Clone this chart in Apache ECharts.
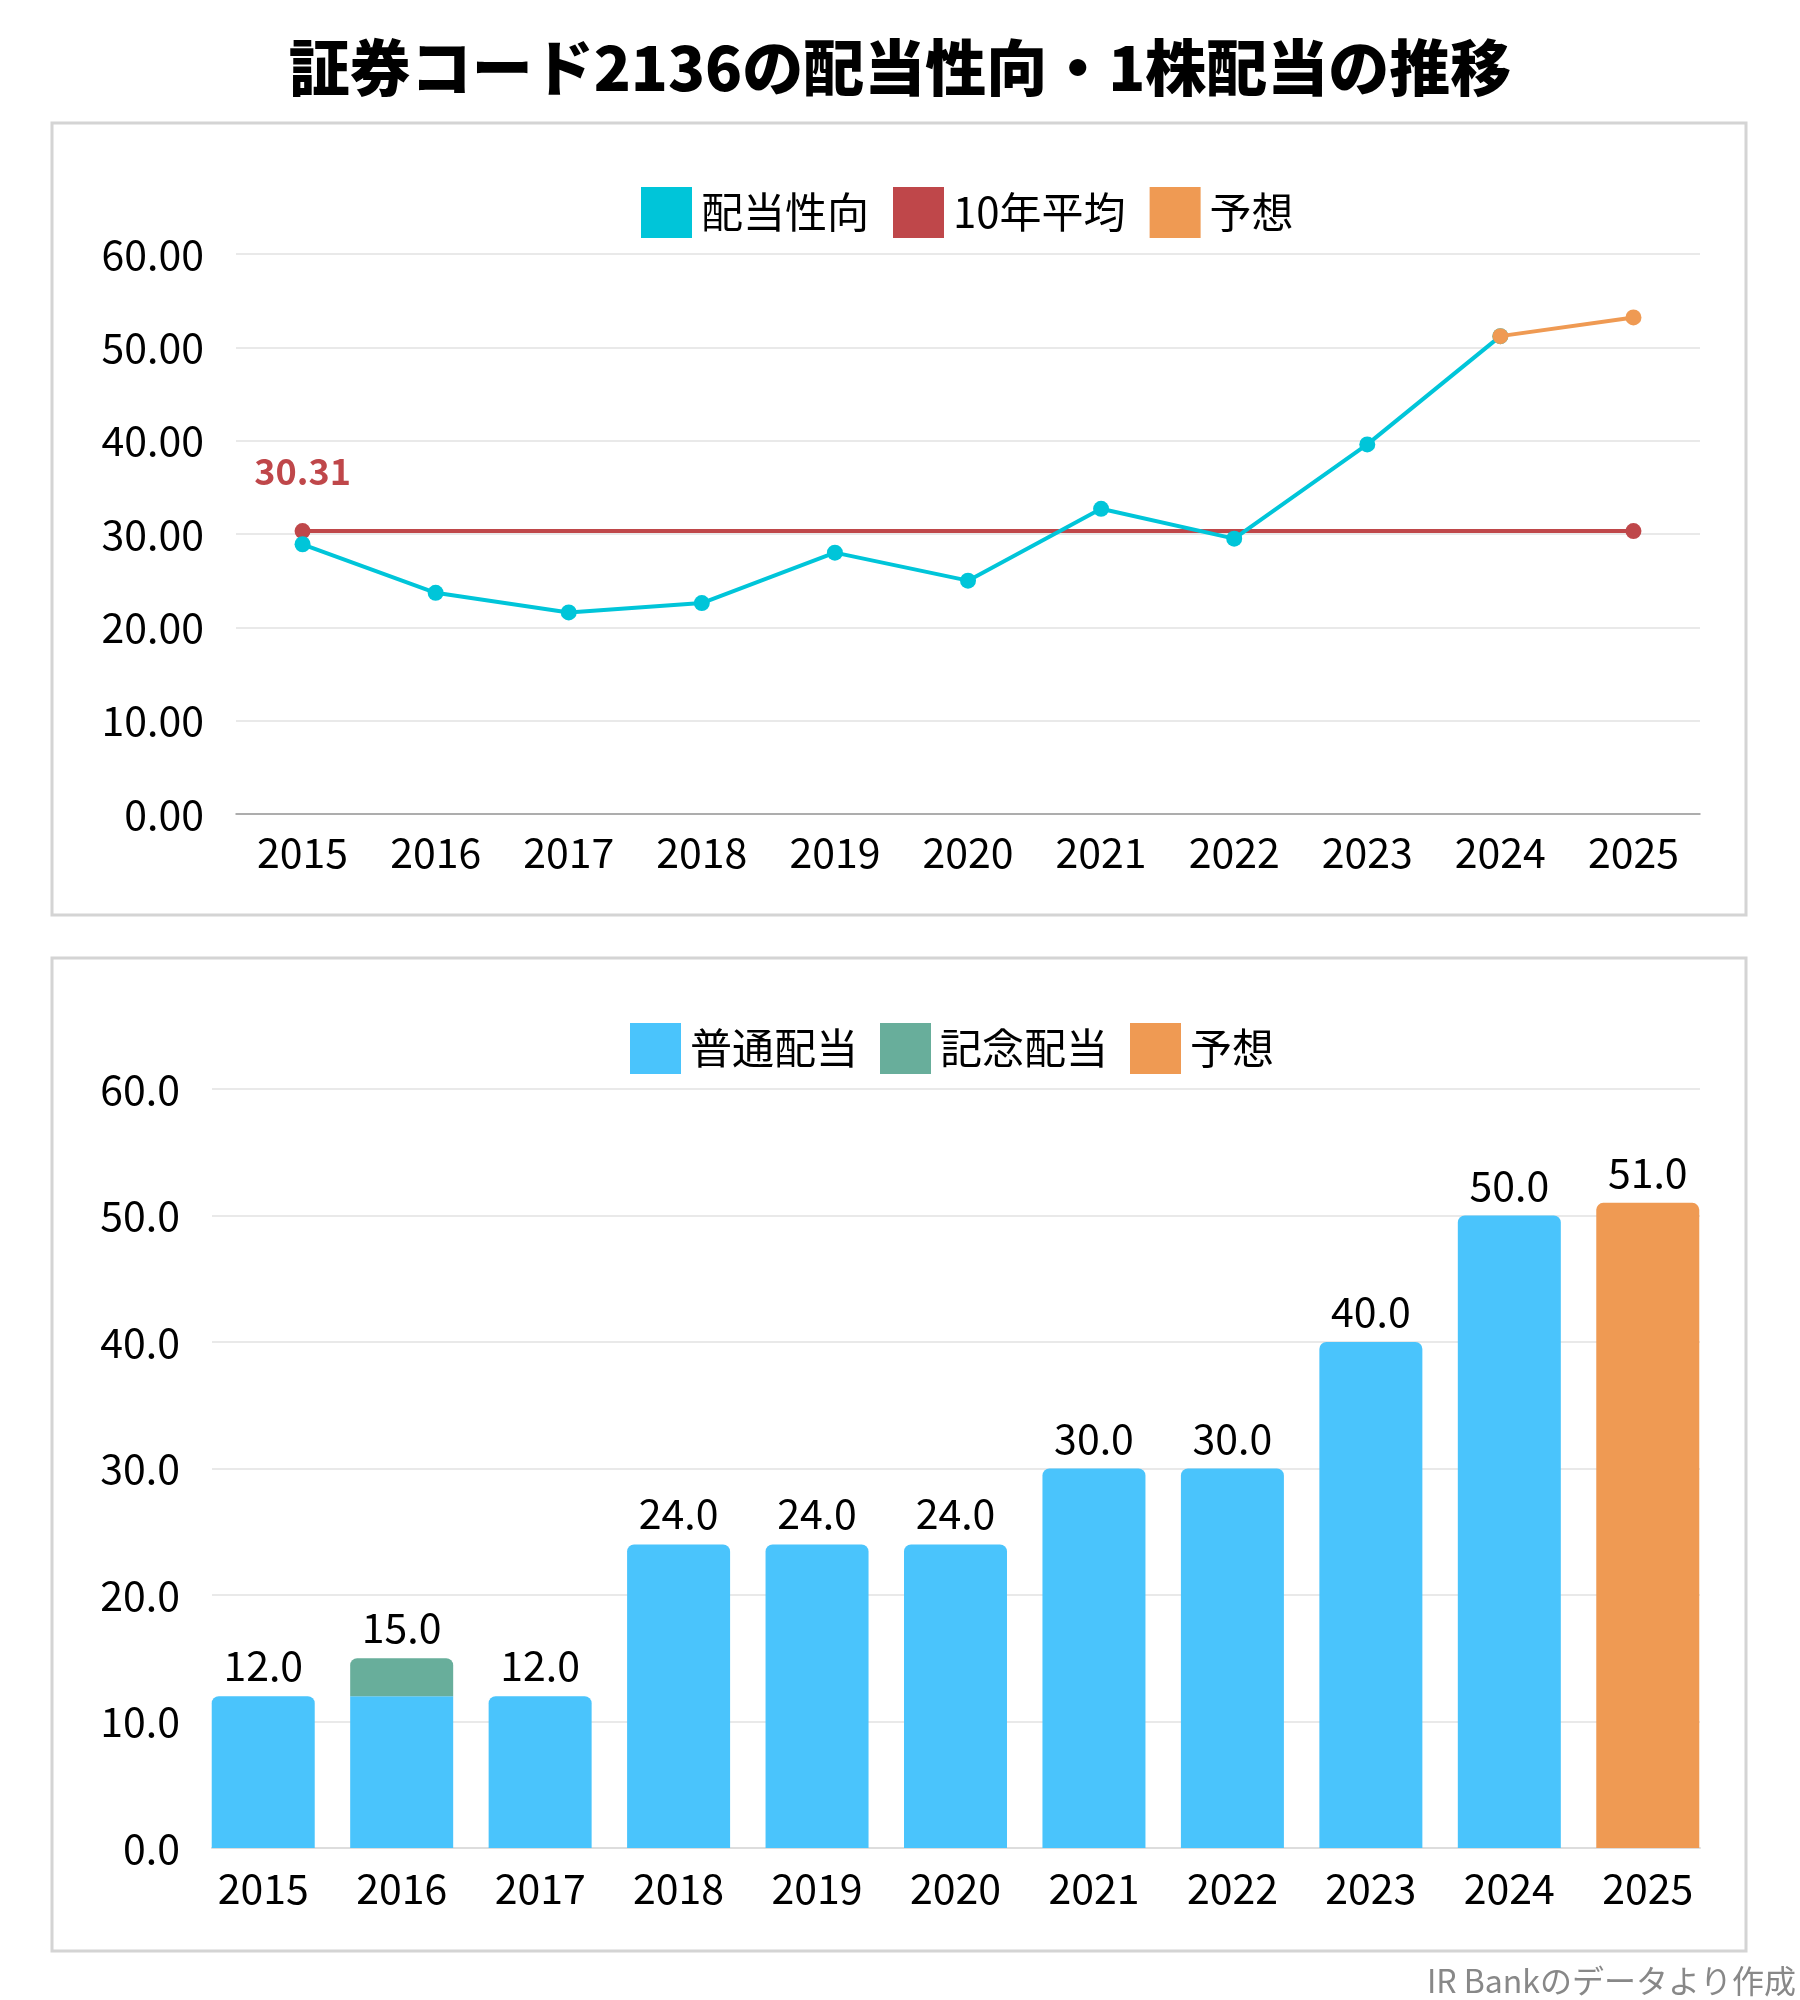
<!DOCTYPE html>
<html>
<head>
<meta charset="utf-8">
<script src="https://cdn.jsdelivr.net/npm/echarts@6/dist/echarts.min.js"></script>
<style>
  html, body { margin: 0; padding: 0; background: #fff; }
  #chart { width: 1800px; height: 2000px; }
</style>
</head>
<body>
<div id="chart"></div>
<script>
// 年度
var years = ['2015', '2016', '2017', '2018', '2019', '2020', '2021', '2022', '2023', '2024', '2025'];
// 配当性向 (%)
var payoutRatio = [28.9, 23.7, 21.6, 22.6, 28.0, 25.0, 32.7, 29.5, 39.6, 51.2, null];
var payoutForecast = [null, null, null, null, null, null, null, null, null, 51.2, 53.2];
var tenYearAvg = 30.31;
// 1株配当 (円)
var normalDiv = [12, 12, 12, 24, 24, 24, 30, 30, 40, 50, null];
var memorialDiv = [null, 3, null, null, null, null, null, null, null, null, null];
var forecastDiv = [null, null, null, null, null, null, null, null, null, null, 51];
// 目盛
var ratioTicks = { min: 0, max: 60, interval: 10 };
var divTicks = { min: 0, max: 60, interval: 10 };

var FONT = '"Noto Sans CJK JP", "Noto Sans", sans-serif';
var C_RATIO = '#00c5d9', C_AVG = '#bf474a', C_FC = '#ef9a53';
var C_NORMAL = '#4ac4fc', C_MEMO = '#68ae9b';

var chart = echarts.init(document.getElementById('chart'));

// 平均線: 両端だけマーカー
var avgData = years.map(function (y, i) {
    var end = (i === 0 || i === years.length - 1);
    return {
        value: tenYearAvg,
        symbol: end ? 'circle' : 'none',
        label: { show: i === 0 }
    };
});

// 棒の上に合計を出す
function totalAt(i) {
    return (normalDiv[i] || 0) + (memorialDiv[i] || 0) + (forecastDiv[i] || 0);
}
var barLabel = {
    show: true, position: 'top', distance: 10,
    color: '#000', fontSize: 41, fontFamily: FONT,
    formatter: function (p) { return totalAt(p.dataIndex).toFixed(1); }
};
var normalData = normalDiv.map(function (v, i) {
    if (memorialDiv[i] != null) {
        return { value: v, itemStyle: { borderRadius: 0 }, label: { show: false } };
    }
    return v;
});

chart.setOption({
    backgroundColor: '#fff',
    textStyle: { fontFamily: FONT },
    animation: false,
    graphic: [
        { type: 'text', left: 'center', top: 37,
          style: { text: '証券コード2136の配当性向・1株配当の推移', font: '900 61px ' + FONT, fill: '#000' } },
        { type: 'rect', shape: { x: 52, y: 123, width: 1694, height: 792 },
          style: { fill: 'none', stroke: '#d4d4d4', lineWidth: 3 }, z: -1 },
        { type: 'rect', shape: { x: 52, y: 958, width: 1694, height: 993 },
          style: { fill: 'none', stroke: '#d4d4d4', lineWidth: 3 }, z: -1 },
        { type: 'text', right: 4, top: 1965,
          style: { text: 'IR Bankのデータより作成', font: '32px ' + FONT, fill: '#888' } }
    ],
    legend: [
        {
            left: 636, top: 182, icon: 'rect', itemWidth: 51, itemHeight: 51, itemGap: 24,
            data: ['配当性向', '10年平均', '予想'],
            textStyle: { fontSize: 42, color: '#000', fontFamily: FONT, padding: [0, 0, 0, 4] }
        },
        {
            left: 625, top: 1018, icon: 'rect', itemWidth: 51, itemHeight: 51, itemGap: 22,
            data: ['普通配当', '記念配当', '予想'],
            textStyle: { fontSize: 42, color: '#000', fontFamily: FONT, padding: [0, 0, 0, 4] }
        }
    ],
    grid: [
        { left: 236, right: 100, top: 254, height: 560 },
        { left: 194, right: 83, top: 1089, height: 759 },
        // 目盛線用(棒の外端に合わせる)
        { left: 212, right: 100, top: 1089, height: 759 }
    ],
    xAxis: [
        {
            gridIndex: 0, type: 'category', data: years, boundaryGap: true,
            axisLine: { lineStyle: { color: '#999', width: 1.5 } },
            axisTick: { show: false },
            axisLabel: { color: '#000', fontSize: 41, margin: 18, fontFamily: FONT }
        },
        {
            gridIndex: 1, type: 'category', data: years,
            axisLine: { show: false },
            axisTick: { show: false },
            axisLabel: { color: '#000', fontSize: 41, margin: 20, fontFamily: FONT }
        },
        {
            gridIndex: 2, type: 'category', data: years,
            axisLine: { lineStyle: { color: '#ddd', width: 2 } },
            axisTick: { show: false }, axisLabel: { show: false }
        }
    ],
    yAxis: [
        {
            gridIndex: 0, type: 'value', min: ratioTicks.min, max: ratioTicks.max, interval: ratioTicks.interval,
            axisLine: { show: false }, axisTick: { show: false },
            axisLabel: { color: '#000', fontSize: 41, margin: 32, fontFamily: FONT,
                         formatter: function (v) { return v.toFixed(2); } },
            splitLine: { lineStyle: { color: '#e2e2e2', width: 1.5 } }
        },
        {
            gridIndex: 1, type: 'value', min: divTicks.min, max: divTicks.max, interval: divTicks.interval,
            axisLine: { show: false }, axisTick: { show: false },
            axisLabel: { color: '#000', fontSize: 41, margin: 14, fontFamily: FONT,
                         formatter: function (v) { return v.toFixed(1); } },
            splitLine: { show: false }
        },
        {
            gridIndex: 2, type: 'value', min: divTicks.min, max: divTicks.max, interval: divTicks.interval,
            axisLine: { show: false }, axisTick: { show: false }, axisLabel: { show: false },
            splitLine: { lineStyle: { color: '#e2e2e2', width: 1.5 } }
        }
    ],
    series: [
        {
            name: '配当性向', type: 'line', xAxisIndex: 0, yAxisIndex: 0,
            data: payoutRatio, color: C_RATIO,
            symbol: 'circle', symbolSize: 16, lineStyle: { width: 4 }, z: 3
        },
        {
            name: '10年平均', type: 'line', xAxisIndex: 0, yAxisIndex: 0,
            data: avgData, color: C_AVG,
            symbolSize: 16, lineStyle: { width: 4 }, z: 2,
            label: { position: 'top', distance: 34, color: C_AVG, fontSize: 36, fontWeight: 'bold',
                     fontFamily: FONT, formatter: function (p) { return p.value.toFixed(2); } }
        },
        {
            name: '予想', type: 'line', xAxisIndex: 0, yAxisIndex: 0,
            data: payoutForecast, color: C_FC,
            symbol: 'circle', symbolSize: 16, lineStyle: { width: 4 }, z: 4
        },
        {
            name: '普通配当', type: 'bar', xAxisIndex: 1, yAxisIndex: 1, stack: 'div',
            data: normalData, color: C_NORMAL, barWidth: 103,
            itemStyle: { borderRadius: [7, 7, 0, 0] }, label: barLabel
        },
        {
            name: '記念配当', type: 'bar', xAxisIndex: 1, yAxisIndex: 1, stack: 'div',
            data: memorialDiv, color: C_MEMO, barWidth: 103,
            itemStyle: { borderRadius: [7, 7, 0, 0] }, label: barLabel
        },
        {
            name: '予想', type: 'bar', xAxisIndex: 1, yAxisIndex: 1, stack: 'div',
            data: forecastDiv, color: C_FC, barWidth: 103,
            itemStyle: { borderRadius: [7, 7, 0, 0] }, label: barLabel
        }
    ]
});
</script>
</body>
</html>
